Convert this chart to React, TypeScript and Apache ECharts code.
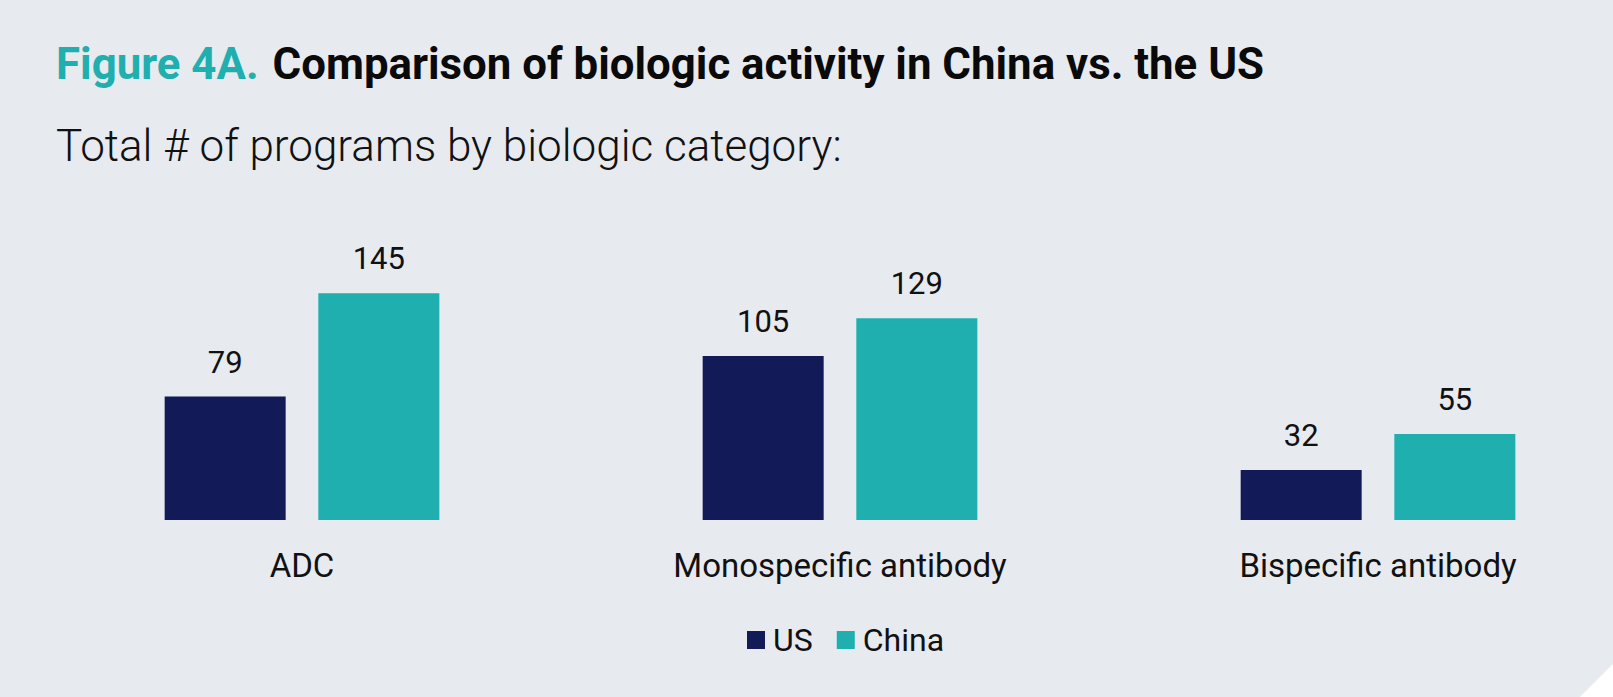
import React, { useEffect, useRef } from "react";
import * as echarts from "echarts";

// Biologic program counts by category
const categories = ["ADC", "Monospecific antibody", "Bispecific antibody"];
const usPrograms = [79, 105, 32];
const chinaPrograms = [145, 129, 55];
const seriesNames = ["US", "China"];

const NAVY = "#121A58";
const TEAL = "#1EAFAE";
const BG = "#E7EAEF";

export default function App() {
  const ref = useRef<HTMLDivElement>(null);

  useEffect(() => {
    if (!ref.current) return;
    const chart = echarts.init(ref.current, null, { renderer: "svg" });

    const valueLabel = {
      show: true,
      position: "top",
      distance: 19,
      color: "#111111",
      fontFamily: "Roboto",
      fontSize: 31,
      fontWeight: 400,
    };

    chart.setOption({
      animation: false,
      backgroundColor: BG,
      graphic: [
        {
          type: "text",
          left: 56,
          top: 42,
          style: {
            text: "{a|Figure 4A.}{b|Comparison of biologic activity in China vs. the US}",
            rich: {
              a: {
                fontFamily: "Roboto",
                fontSize: 43.8,
                fontWeight: 700,
                fill: TEAL,
                color: TEAL,
              },
              b: {
                fontFamily: "Roboto",
                fontSize: 43.8,
                fontWeight: 700,
                fill: "#0a0a0a",
                color: "#0a0a0a",
                padding: [0, 0, 0, 14],
              },
            },
          },
        },
        {
          type: "text",
          left: 56,
          top: 124,
          style: {
            text: "Total # of programs by biologic category:",
            fontFamily: "Roboto",
            fontSize: 44,
            fontWeight: 300,
            fill: "#111111",
          },
        },
        {
          type: "polygon",
          shape: {
            points: [
              [1613, 664],
              [1613, 697],
              [1580, 697],
            ],
          },
          style: { fill: "#ffffff" },
          silent: true,
        },
      ],
      legend: {
        data: seriesNames,
        left: 742,
        top: 619,
        icon: "rect",
        itemWidth: 18,
        itemHeight: 18,
        itemGap: 24,
        textStyle: {
          fontFamily: "Roboto",
          fontSize: 32,
          fontWeight: 400,
          color: "#111111",
          padding: [0, 0, 0, 3],
        },
      },
      // category positions sit on the grid edges (boundaryGap false)
      grid: {
        left: 302,
        top: 207.4,
        width: 1076,
        height: 312.6,
        containLabel: false,
      },
      xAxis: {
        type: "category",
        data: categories,
        boundaryGap: false,
        axisLine: { show: false },
        axisTick: { show: false },
        splitLine: { show: false },
        axisLabel: {
          margin: 45,
          verticalAlign: "middle",
          fontFamily: "Roboto",
          fontSize: 33,
          fontWeight: 400,
          color: "#111111",
          interval: 0,
        },
      },
      yAxis: {
        type: "value",
        min: 0,
        max: 200,
        show: false,
        splitLine: { show: false },
      },
      series: [
        {
          name: seriesNames[0],
          type: "bar",
          data: usPrograms,
          barWidth: 121,
          barGap: "27%",
          clip: false,
          itemStyle: { color: NAVY },
          label: valueLabel,
        },
        {
          name: seriesNames[1],
          type: "bar",
          data: chinaPrograms,
          barWidth: 121,
          barGap: "27%",
          clip: false,
          itemStyle: { color: TEAL },
          label: valueLabel,
        },
      ],
    });

    return () => chart.dispose();
  }, []);

  return (
    <div
      ref={ref}
      style={{ position: "absolute", left: 0, top: 0, width: 1613, height: 697 }}
    />
  );
}
